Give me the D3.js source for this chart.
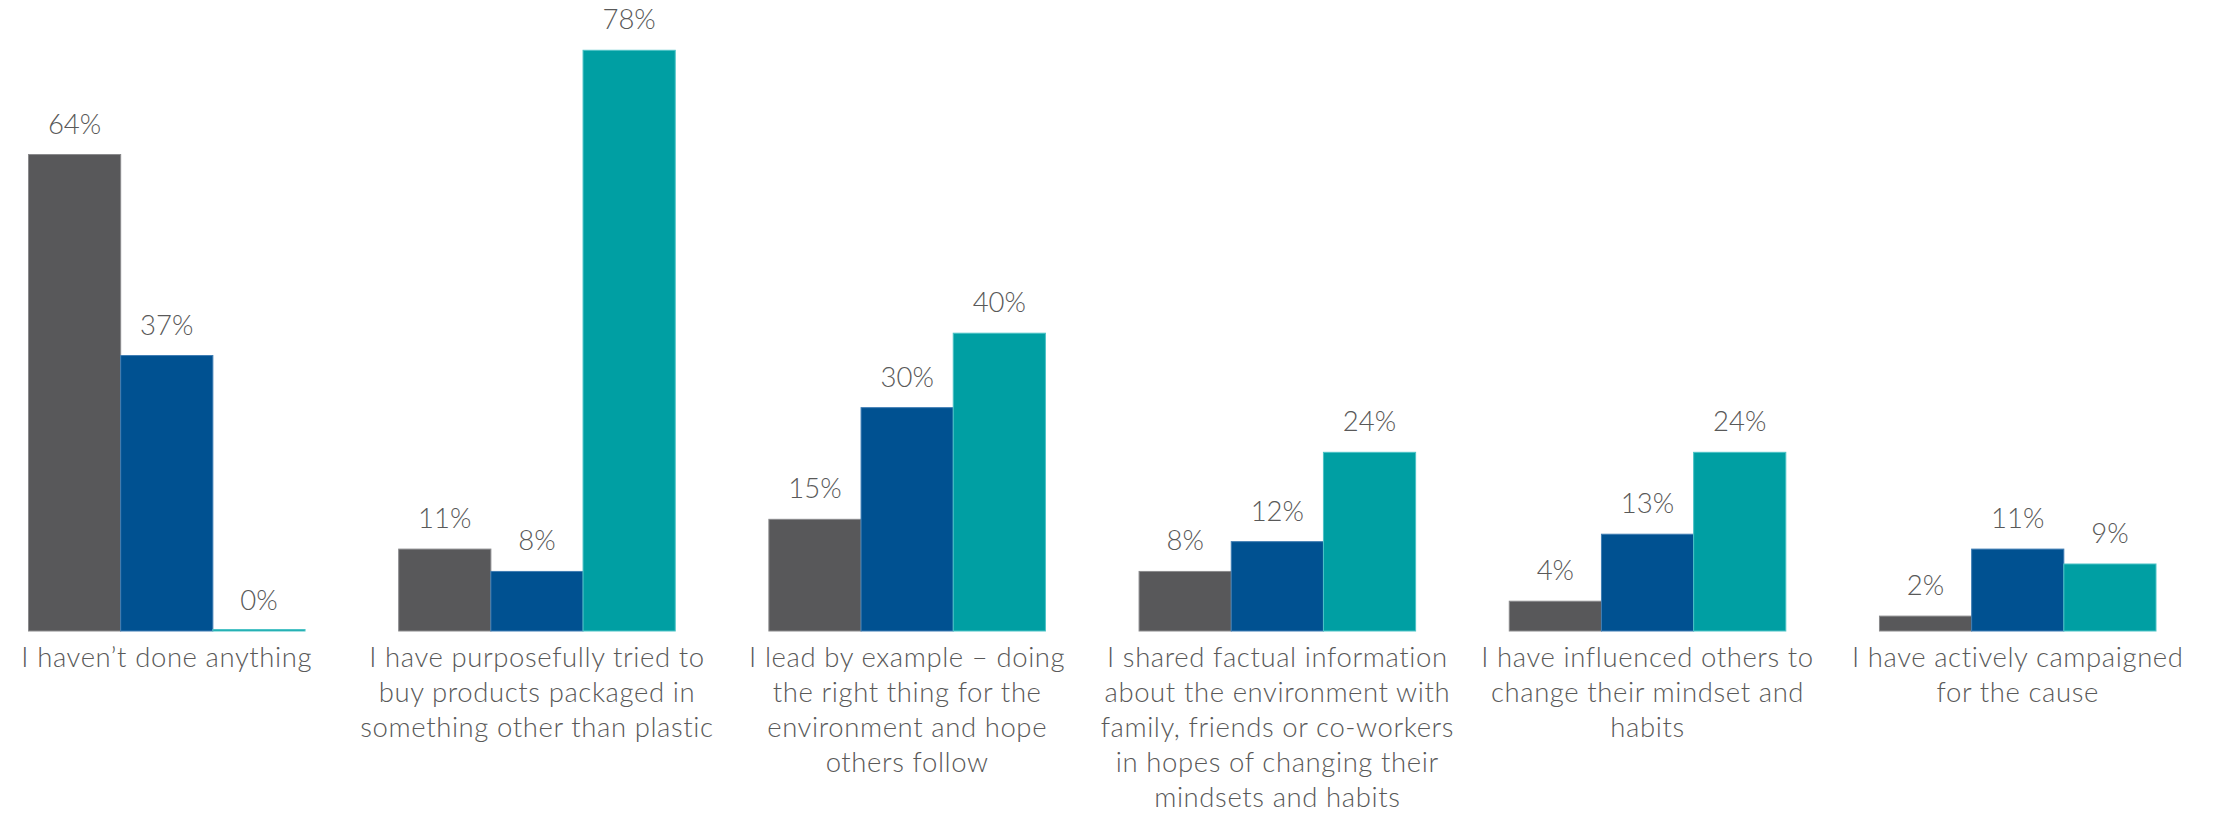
<!DOCTYPE html>
<html>
<head>
<meta charset="utf-8">
<script src="https://cdn.jsdelivr.net/npm/d3@7"></script>
<style>
  html, body { margin: 0; padding: 0; background: #ffffff; }
  svg { display: block; }
  text { font-family: Lato, "Open Sans", sans-serif; fill: #595959; }
</style>
</head>
<body>
<svg id="chart" width="2216" height="814"></svg>
<script>
// Survey answers (one line break per "\n" in the axis label)
const categories = [
  "I haven\u2019t done anything",
  "I have purposefully tried to\nbuy products packaged in\nsomething other than plastic",
  "I lead by example \u2013 doing\nthe right thing for the\nenvironment and hope\nothers follow",
  "I shared factual information\nabout the environment with\nfamily, friends or co-workers\nin hopes of changing their\nmindsets and habits",
  "I have influenced others to\nchange their mindset and\nhabits",
  "I have actively campaigned\nfor the cause"
];

const seriesNames = ["Series A", "Series B", "Series C"];
const seriesA = [64, 11, 15, 8, 4, 2];
const seriesB = [37, 8, 30, 12, 13, 11];
const seriesC = [0, 78, 40, 24, 24, 9];
const seriesColors = ["#58585a", "#005191", "#009fa3"];
const seriesStrokes = ["#8a8a8c", "#3f7db3", "#4cc3c6"];

const svg = d3.select("#chart");
const baseline = 631;

const x0 = d3.scaleBand()
  .domain(d3.range(categories.length))
  .range([28.5, 2156])
  .paddingInner(0.253)
  .paddingOuter(0);

const x1 = d3.scaleBand()
  .domain(d3.range(seriesNames.length))
  .range([0, x0.bandwidth()])
  .padding(0);

const y = d3.scaleLinear()
  .domain([0, 100])
  .range([baseline, baseline - 744.5]);

const allSeries = [seriesA, seriesB, seriesC];

const groups = svg.append("g")
  .selectAll("g")
  .data(categories.map((c, i) => ({ i, values: allSeries.map(s => s[i]) })))
  .join("g")
  .attr("transform", d => `translate(${x0(d.i)},0)`);

groups.selectAll("rect")
  .data(d => d.values.map((v, k) => ({ k, v })))
  .join("rect")
  .attr("x", d => x1(d.k))
  .attr("y", d => y(d.v) - (d.v === 0 ? 1.5 : 0))
  .attr("width", x1.bandwidth())
  .attr("height", d => Math.max(baseline - y(d.v), 0) + (d.v === 0 ? 1.5 : 0))
  .attr("fill", d => seriesColors[d.k])
  .attr("stroke", d => seriesStrokes[d.k])
  .attr("stroke-width", 1);

groups.selectAll("text.value")
  .data(d => d.values.map((v, k) => ({ k, v })))
  .join("text")
  .attr("class", "value")
  .attr("x", d => x1(d.k) + x1.bandwidth() / 2)
  .attr("y", d => y(d.v) - 21)
  .attr("text-anchor", "middle")
  .style("font-size", "27.5px")
  .style("font-weight", 300)
  .text(d => d.v + "%");

// Category labels under each group
const catLabels = svg.append("g")
  .selectAll("text")
  .data(categories)
  .join("text")
  .attr("x", (d, i) => x0(i) + x0.bandwidth() / 2)
  .attr("y", 667)
  .attr("text-anchor", "middle")
  .style("font-size", "27.5px")
  .style("letter-spacing", "0.6px")
  .style("font-weight", 300);

catLabels.selectAll("tspan")
  .data(d => d.split("\n"))
  .join("tspan")
  .attr("x", function () { return d3.select(this.parentNode).attr("x"); })
  .attr("dy", (d, j) => j === 0 ? 0 : 35)
  .text(d => d);
</script>
</body>
</html>
